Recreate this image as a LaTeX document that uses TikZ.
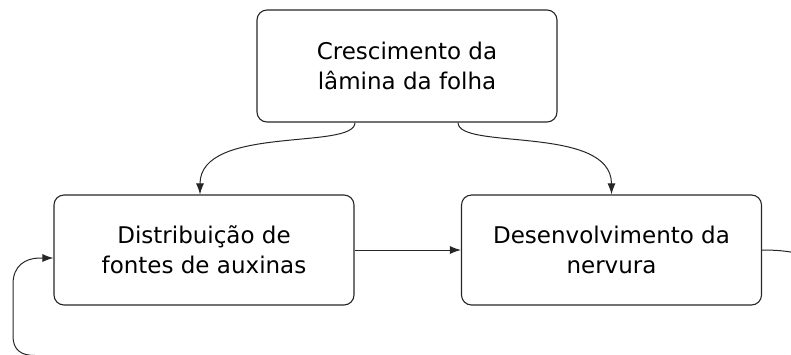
\documentclass[tikz,border=0pt]{standalone}
\usepackage{fontspec}
\setmainfont{DejaVu Sans}
\usetikzlibrary{arrows.meta}

\tikzset{
  caixa/.style = {draw=black!85, line width=1.1pt, rounded corners=10pt,
    minimum width=300pt, minimum height=110pt, align=center,
    font=\fontsize{23}{30}\selectfont},
  seta/.style = {draw=black!85, line width=1pt, -{Latex[length=11pt,width=8pt]}}
}

\begin{document}
\begin{tikzpicture}[x=1pt, y=-1pt]
   \useasboundingbox (0,0) rectangle (791,354);
   \clip (0,0) rectangle (791,354);
   \node[caixa, minimum height=112pt] (lamina) at (407,66) {Crescimento da\\lâmina da folha};
   \node[caixa] (fontes) at (204,250) {Distribuição de\\fontes de auxinas};
   \node[caixa] (nervura) at (611.5,250) {Desenvolvimento da\\nervura};
   % setas
   \draw[seta] ([xshift=-52pt]lamina.south) .. controls +(0,28) and +(0,-70) .. ([xshift=-4pt]fontes.north);
   \draw[seta] ([xshift=51pt]lamina.south) .. controls +(0,28) and +(0,-70) .. (nervura.north);
   \draw[seta] (fontes.east) -- (nervura.west);
   \draw[seta] (nervura.east) .. controls +(45,0) and +(0,-40) .. (830,300) -- (830,320)
      .. controls +(0,30) and +(30,0) .. (790,355.5) -- (35,355.5)
      .. controls +(-14,0) and +(0,14) .. (13,336) -- (13,284)
      .. controls +(0,-18) and +(-15,0) .. (40,258) -- ([yshift=-8pt]fontes.west);
\end{tikzpicture}
\end{document}
